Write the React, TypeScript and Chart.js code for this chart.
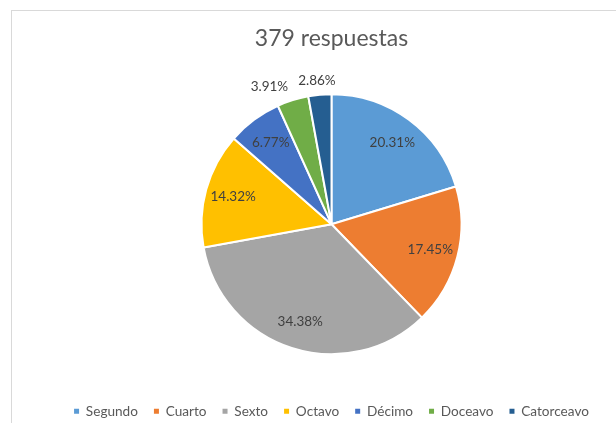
import React, { useEffect, useRef } from "react";
import { Chart, registerables } from "chart.js";

Chart.register(...registerables);

const categories = ["Segundo", "Cuarto", "Sexto", "Octavo", "Décimo", "Doceavo", "Catorceavo"];
const percentages = [20.31, 17.45, 34.38, 14.32, 6.77, 3.91, 2.86];
const colors = ["#5B9BD5", "#ED7D31", "#A5A5A5", "#FFC000", "#4472C4", "#70AD47", "#255E91"];
const titleText = "379 respuestas";

const FONT = "Lato";

const pctLabels = {
  id: "pctLabels",
  afterDatasetsDraw(chart: any) {
    const ctx = chart.ctx;
    const meta = chart.getDatasetMeta(0);
    const data = chart.data.datasets[0].data as number[];
    ctx.save();
    ctx.font = `13.5px ${FONT}`;
    ctx.fillStyle = "#404040";
    ctx.textAlign = "center";
    ctx.textBaseline = "middle";
    const placed: { cx: number; cy: number; w: number }[] = [];
    const h = 13;
    for (let i = meta.data.length - 1; i >= 0; i--) {
      const arc = meta.data[i];
      const { x, y, startAngle, endAngle, outerRadius } = arc.getProps(
        ["x", "y", "startAngle", "endAngle", "outerRadius"],
        true
      );
      const mid = (startAngle + endAngle) / 2;
      const text = data[i].toFixed(2) + "%";
      const w = ctx.measureText(text).width;
      if (data[i] >= 5) {
        const r = outerRadius * 0.785;
        ctx.fillText(text, x + Math.cos(mid) * r, y + Math.sin(mid) * r);
      } else {
        const r = outerRadius + 14;
        const ax = x + Math.cos(mid) * r;
        const ay = y + Math.sin(mid) * r;
        let cx = ax + (Math.cos(mid) * w) / 2;
        for (const p of placed) {
          if (
            Math.abs(p.cy - ay) < h &&
            cx + w / 2 > p.cx - p.w / 2 - 10 &&
            cx - w / 2 < p.cx + p.w / 2 + 10
          ) {
            cx = p.cx - p.w / 2 - 10 - w / 2;
          }
        }
        placed.push({ cx, cy: ay, w });
        ctx.fillText(text, cx, ay);
      }
    }
    ctx.restore();
  },
};

export default function App() {
  const canvasRef = useRef<HTMLCanvasElement | null>(null);

  useEffect(() => {
    let chart: Chart | null = null;
    let cancelled = false;
    const make = () => {
      if (cancelled || !canvasRef.current) return;
      chart = new Chart(canvasRef.current, {
        type: "pie",
        data: {
          labels: categories,
          datasets: [
            {
              data: percentages,
              backgroundColor: colors,
              borderColor: "#ffffff",
              borderWidth: 2,
              radius: 130,
            } as any,
          ],
        },
        options: {
          animation: false,
          responsive: true,
          maintainAspectRatio: false,
          layout: { padding: 0 },
          plugins: {
            tooltip: { enabled: false },
            title: {
              display: true,
              text: titleText,
              color: "#595959",
              font: { family: FONT, size: 23, weight: "normal" },
              padding: { top: 14, bottom: 7.4 },
            },
            legend: {
              position: "bottom",
              labels: {
                color: "#595959",
                font: { family: FONT, size: 13.6 },
                boxWidth: 5,
                boxHeight: 5,
                padding: 16,
                generateLabels: (c: any) => {
                  const base = (Chart as any).overrides.pie.plugins.legend.labels.generateLabels(c);
                  return base.map((l: any) => ({ ...l, lineWidth: 0, strokeStyle: "rgba(0,0,0,0)" }));
                },
              },
            },
          },
        },
        plugins: [pctLabels],
      });
    };
    const fonts: any = (document as any).fonts;
    if (fonts && fonts.load) {
      Promise.all([fonts.load(`23px ${FONT}`), fonts.load(`13.5px ${FONT}`)])
        .catch(() => {})
        .then(make);
    } else {
      make();
    }
    return () => {
      cancelled = true;
      if (chart) chart.destroy();
    };
  }, []);

  return (
    <div
      style={{
        position: "fixed",
        left: 0,
        top: 0,
        width: 616,
        height: 423,
        overflow: "hidden",
        background: "#ffffff",
      }}
    >
      <div
        style={{
          position: "absolute",
          left: 11,
          top: 10,
          width: 700,
          height: 500,
          borderLeft: "1px solid #d9d9d9",
          borderTop: "1px solid #d9d9d9",
        }}
      />
      <div style={{ position: "absolute", left: 10, top: 11, width: 643, height: 417 }}>
        <canvas ref={canvasRef} style={{ display: "block" }} />
      </div>
    </div>
  );
}
